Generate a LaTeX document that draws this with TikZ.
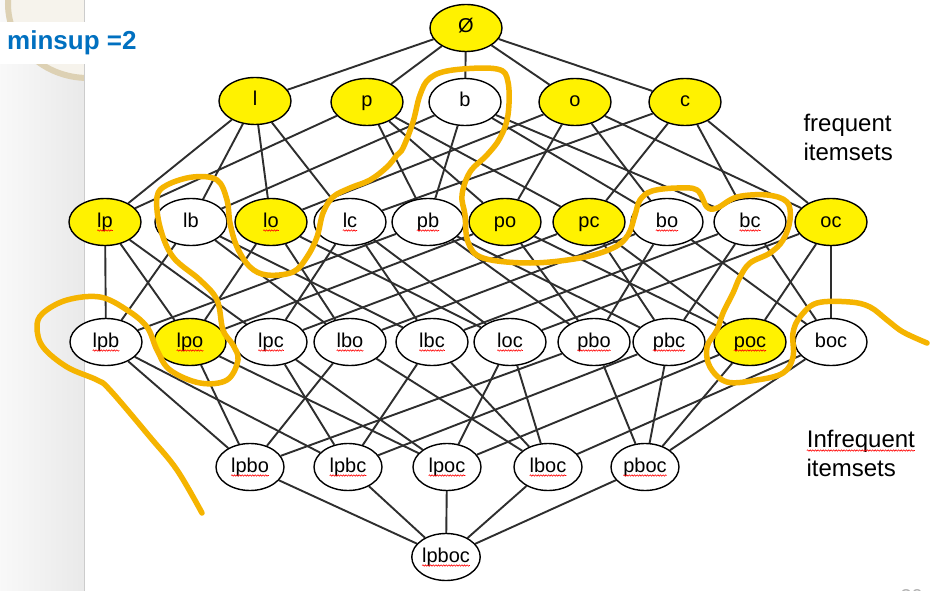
\documentclass[tikz,border=0pt]{standalone}
\usepackage{fontspec}
\setmainfont{Liberation Sans}
\usetikzlibrary{shapes,backgrounds,decorations.pathmorphing}
\definecolor{marker}{RGB}{245,180,0}
\definecolor{msblue}{RGB}{0,112,192}
\definecolor{ringbeige}{RGB}{221,209,180}
\newcommand{\itemfont}{\fontsize{20}{22}\selectfont}
\newcommand{\notefont}{\fontsize{24}{29}\selectfont}
% red spell-check wave under a word
\newcommand{\spell}[1]{\tikz[baseline=(w.base)]{\node[shape=rectangle,draw=none,fill=none,minimum size=0pt,inner sep=0pt,outer sep=0pt,text height=,text depth=] (w) {#1};\draw[red,line width=.6pt,decorate,decoration={snake,amplitude=.7pt,segment length=2.6pt}] ([yshift=-3.5pt]w.base west) -- ([yshift=-3.5pt]w.base east);}}

\begin{document}
\begin{tikzpicture}[x=1pt,y=-1pt,
  set node/.style={ellipse,draw,line width=1.4pt,minimum width=72pt,minimum height=47pt,inner sep=0pt,text height=14pt,text depth=4pt,font=\itemfont},
  freq/.style={set node,fill=yellow},
  infreq/.style={set node,fill=white},
  small/.style={minimum width=68pt},
  link/.style={line width=1.9pt,black!82},
  note/.style={anchor=base west,align=left,font=\notefont},
  border line/.style={marker,line width=5.5pt,line cap=round,line join=round}]
\useasboundingbox (0,0) rectangle (935,591);
\begin{scope}
\node[freq] (e) at (466,28) {Ø};
\node[freq] (l) at (255,101) {l};
\node[freq] (p) at (367,102) {p};
\node[infreq] (b) at (465,102) {b};
\node[freq] (o) at (575,102) {o};
\node[freq] (c) at (685,102) {c};
\node[freq] (lp) at (105,222) {\spell{lp}};
\node[infreq] (lb) at (191,222) {lb};
\node[freq] (lo) at (271,222) {\spell{lo}};
\node[infreq] (lc) at (350,222) {\spell{lc}};
\node[infreq] (pb) at (428,222) {\spell{pb}};
\node[freq] (po) at (505,222) {po};
\node[freq] (pc) at (589,222) {pc};
\node[infreq] (bo) at (667,222) {\spell{bo}};
\node[infreq] (bc) at (750,222) {\spell{bc}};
\node[freq] (oc) at (831,222) {oc};
\node[infreq] (lpb) at (106,342) {\spell{lpb}};
\node[freq] (lpo) at (190,342) {\spell{lpo}};
\node[infreq] (lpc) at (271,342) {\spell{lpc}};
\node[infreq] (lbo) at (350,342) {\spell{lbo}};
\node[infreq] (lbc) at (432,342) {\spell{lbc}};
\node[infreq] (loc) at (510,342) {\spell{loc}};
\node[infreq] (pbo) at (594,342) {\spell{pbo}};
\node[infreq] (pbc) at (669,342) {\spell{pbc}};
\node[freq] (poc) at (750,342) {\spell{poc}};
\node[infreq] (boc) at (831,342) {boc};
\node[infreq,small] (lpbo) at (250,467) {\spell{lpbo}};
\node[infreq,small] (lpbc) at (348,467) {\spell{lpbc}};
\node[infreq,small] (lpoc) at (447,467) {\spell{lpoc}};
\node[infreq,small] (lboc) at (548,467) {\spell{lboc}};
\node[infreq,small] (pboc) at (645,467) {\spell{pboc}};
\node[infreq,small] (lpboc) at (446,557) {\spell{lpboc}};
\end{scope}
\begin{scope}[on background layer]
% slide
\fill[white] (0,0) rectangle (935,591);
\fill[left color=gray!5,right color=gray!17] (0,0) rectangle (84,591);
\begin{scope}
\clip (0,0) rectangle (84,591);
\draw[ringbeige,line width=6pt,fill=ringbeige!25] (88,4) ellipse (80 and 74);
\end{scope}
\draw[gray!40,line width=1.5pt] (84.5,0) -- (84.5,591);
\begin{scope}[link]
\draw (e) edge (l) edge (p) edge (b) edge (o) edge (c);
\draw (l) edge (lp) edge (lb) edge (lo) edge (lc);
\draw (p) edge (lp) edge (pb) edge (po) edge (pc);
\draw (b) edge (lb) edge (pb) edge (bo) edge (bc);
\draw (o) edge (lo) edge (po) edge (bo) edge (oc);
\draw (c) edge (lc) edge (pc) edge (bc) edge (oc);
\draw (lpb) edge (lp) edge (lb) edge (pb);
\draw (lpo) edge (lp) edge (lo) edge (po);
\draw (lpc) edge (lp) edge (lc) edge (pc);
\draw (lbo) edge (lb) edge (lo) edge (bo);
\draw (lbc) edge (lb) edge (lc) edge (bc);
\draw (loc) edge (lo) edge (lc) edge (oc);
\draw (pbo) edge (pb) edge (po) edge (bo);
\draw (pbc) edge (pb) edge (pc) edge (bc);
\draw (poc) edge (po) edge (pc) edge (oc);
\draw (boc) edge (bo) edge (bc) edge (oc);
\draw (lpbo) edge (lpb) edge (lpo) edge (lbo) edge (pbo);
\draw (lpbc) edge (lpb) edge (lpc) edge (lbc) edge (pbc);
\draw (lpoc) edge (lpo) edge (lpc) edge (loc) edge (poc);
\draw (lboc) edge (lbo) edge (lbc) edge (loc) edge (boc);
\draw (pboc) edge (pbo) edge (pbc) edge (poc) edge (boc);
\draw (lpboc) edge (lpbo) edge (lpbc) edge (lpoc) edge (lboc) edge (pboc);
\end{scope}
\end{scope}
% texts
\node[anchor=base west,font=\fontsize{26}{30}\selectfont\bfseries,text=msblue,fill=white,inner xsep=7pt,inner ysep=9pt] (minsup) at (0,50) {minsup =2};
\node[note] (freqtxt) at (800,161) {frequent\\itemsets};
\node[note] (infreqtxt) at (803,476) {\spell{Infrequent}\\itemsets};
\node[anchor=base west,font=\fontsize{20}{20}\selectfont,text=gray!60] (page) at (897,603) {30};
% hand drawn border
\draw[border line] plot[smooth,tension=.6] coordinates {(202,513) (177,470) (150,437) (110,390) (97,380) (67,367) (43,347) (37,327) (43,313) (67,300) (100,297) (127,310) (147,327) (157,350) (170,370) (200,383) (227,380) (238,360) (233,345) (223,330) (217,300) (200,280) (173,257) (160,227) (157,197) (167,185) (193,177) (217,180) (227,200) (230,223) (237,247) (250,267) (267,275) (293,272) (307,257) (317,237) (323,213) (333,197) (350,188) (370,180) (387,167) (397,155) (403,148) (413,122) (420,95) (430,78) (453,70) (497,69) (508,82) (508,115) (500,138) (487,155) (470,172) (462,195) (465,215) (468,242) (483,258) (530,263) (580,258) (613,248) (628,235) (635,215) (640,200) (652,191) (677,188) (697,190) (707,207) (717,208) (737,197) (767,195) (787,202) (790,220) (783,240) (770,253) (750,263) (740,277) (733,293) (723,313) (717,330) (707,347) (710,367) (727,382) (757,380) (783,373) (793,357) (793,333) (800,317) (817,303) (850,302) (870,307) (887,320) (903,332) (927,343)};
\end{tikzpicture}
\end{document}
